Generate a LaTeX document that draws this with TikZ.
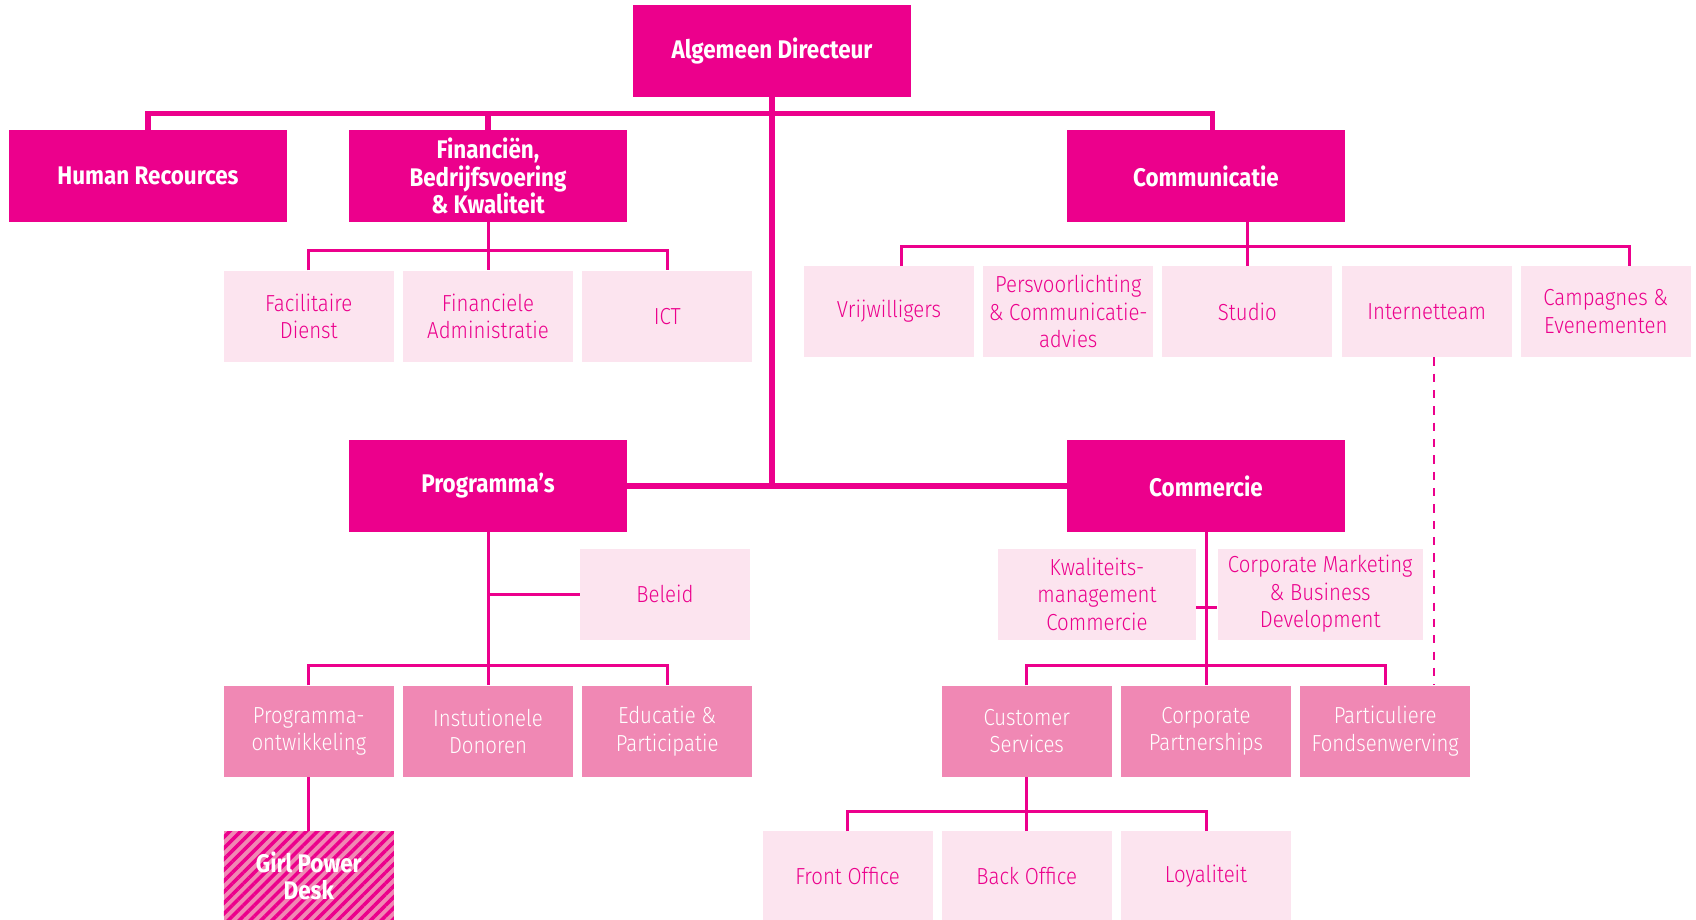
\documentclass[tikz,border=0pt]{standalone}
\usepackage{fontspec}
\setmainfont{Fira Sans}[FakeStretch=0.88]
\newfontfamily\lightfont{Fira Sans Light}[FakeStretch=0.88]
\usepackage{xcolor}
\usetikzlibrary{calc,positioning,chains,patterns.meta}
\definecolor{mag}{HTML}{EC008C}
\definecolor{midpink}{HTML}{F088B4}
\definecolor{palepink}{HTML}{FCE4EF}

\begin{document}
\begin{tikzpicture}[
            node distance = 1.7mm and 1.7mm,
            every node/.style = {align=center, inner xsep=0.5mm, inner ysep=1mm},
            head/.style = {fill=mag, text=white, minimum width=55.6mm, minimum height=18.4mm,
                    font=\bfseries\fontsize{14.5}{15.6}\selectfont},
            lightbox/.style = {fill=palepink, text=mag, minimum width=34mm, minimum height=18.2mm,
                    font=\lightfont\fontsize{13.2}{15.6}\selectfont},
            midbox/.style = {lightbox, fill=midpink, text=white},
            trunk/.style = {draw=mag, line width=3pt},
            link/.style = {draw=mag, line width=1.7pt},
        ]
        \useasboundingbox (0,0) rectangle (33.92,-18.38);

        \node[head] (ad) at (15.44,-1.02) {Algemeen Directeur};
        \node[head] (hr) at (2.96,-3.52) {Human Recources};
        \node[head] (fin) at (9.76,-3.52) {Financiën,\\Bedrijfsvoering\\\& Kwaliteit};
        \node[head] (com) at (24.12,-3.52) {Communicatie};
        \node[head] (prog) at (9.76,-9.72) {Programma’s};
        \node[head] (cmc) at (24.12,-9.72) {Commercie};

        \node[lightbox, below=9.6mm of fin] (fina) {Financiele\\Administratie};
        \node[lightbox, left=of fina] (facil) {Facilitaire\\Dienst};
        \node[lightbox, right=of fina] (ict) {ICT};

        \begin{scope}[start chain=cr going right]
            \node[lightbox, on chain] (vrij) at (17.78,-6.23) {Vrijwilligers};
            \node[lightbox, on chain] (pers) {Persvoorlichting\\\& Communicatie-\\advies};
            \node[lightbox, on chain] (studio) {Studio};
            \node[lightbox, on chain] (inet) {Internetteam};
            \node[lightbox, on chain] (camp) {Campagnes \&\\Evenementen};
        \end{scope}

        \node[lightbox] (beleid) at (13.30,-11.88) {Beleid};
        \node[midbox, below=30.6mm of prog] (inst) {Instutionele\\Donoren};
        \node[midbox, left=of inst] (pdev) {Programma-\\ontwikkeling};
        \node[midbox, right=of inst] (edu) {Educatie \&\\Participatie};
        \node[midbox, below=10.8mm of pdev, minimum height=17.8mm,
            font=\bfseries\fontsize{14.5}{15.6}\selectfont,
            postaction={pattern={Lines[angle=45,distance=4.4pt,line width=2pt]}, pattern color=mag}] (girl) {Girl Power\\Desk};

        \node[lightbox, minimum width=39.6mm] (kwal) at (21.94,-11.88) {Kwaliteits-\\management\\Commercie};
        \node[lightbox, minimum width=41mm, right=4.2mm of kwal] (cmb) {Corporate Marketing\\\& Business\\Development};
        \node[midbox, below=30.6mm of cmc] (cpart) {Corporate\\Partnerships};
        \node[midbox, left=of cpart] (cust) {Customer\\Services};
        \node[midbox, right=of cpart] (partic) {Particuliere\\Fondsenwerving};

        \node[lightbox, below=10.8mm of cust, minimum height=17.8mm] (back) {Back Office};
        \node[lightbox, left=of back, minimum height=17.8mm] (front) {Front Office};
        \node[lightbox, right=of back, minimum height=17.8mm] (loyal) {Loyaliteit};

        \coordinate (bar) at ($(ad.south)!0.5!(hr.north)$);
        \draw[trunk] (ad.south) -- (ad.south |- prog.east);
        \draw[trunk] (prog.east) -- (cmc.west);
        \draw[trunk] (hr.north) |- (bar) -| ([xshift=1.3mm]com.north);
        \draw[trunk] (fin.north) -- (fin.north |- bar);

        \draw[link] (fin.south) -- (fina.north);
        \draw[link] (com.south -| studio.north) -- (studio.north);
        \draw[link] ([xshift=2.4mm]vrij.north) |- ([yshift=3.8mm]studio.north) -| ([xshift=4.8mm]camp.north);
        \draw[link] (prog.south) -- (inst.north);
        \draw[link] (beleid.west) -- (beleid.west -| prog.south);
        \draw[link] (pdev.south) -- (girl.north);
        \draw[link] (cmc.south) -- (cpart.north);
        \draw[link] ([yshift=-2.6mm]kwal.east) -- ([yshift=-2.6mm]cmb.west);
        \draw[link] (cust.south) -- (back.north);

        \foreach \a/\b/\c in {facil/fina/ict, pdev/inst/edu, cust/cpart/partic, front/back/loyal}
            {
                \draw[link] (\a.north) |- ([yshift=4mm]\b.north) -| (\c.north);
            }

        \draw[mag, line width=1.2pt, dash pattern=on 4.7pt off 4.6pt]
            ([xshift=1.4mm]inet.south) -- ([xshift=1.4mm]inet.south |- partic.north);
    \end{tikzpicture}
\end{document}
